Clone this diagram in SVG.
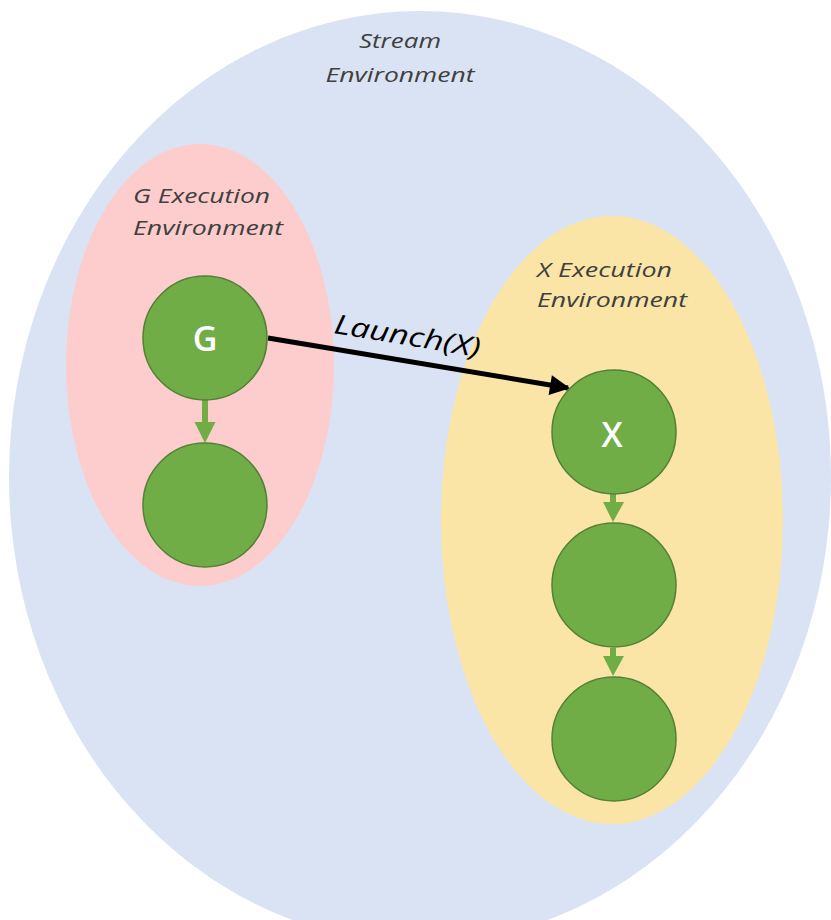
<svg xmlns="http://www.w3.org/2000/svg" width="831" height="920" viewBox="0 0 831 920">
<style>
.env{font-family:"Open Sans","DejaVu Sans",sans-serif;font-style:italic;font-size:20px;fill:#404040}
.node{fill:#70AD47;stroke:#538135;stroke-width:1.5}
.nl{font-family:"Open Sans","DejaVu Sans",sans-serif;font-size:34px;font-weight:600;fill:#ffffff;text-anchor:middle}
.garrow{stroke:#70AD47;stroke-width:6;fill:none}
.ghead{fill:#70AD47}
</style>
<defs>
<marker id="blk" viewBox="0 0 10 10" refX="9" refY="5" markerWidth="4.5" markerHeight="4" orient="auto" markerUnits="strokeWidth">
<path d="M0,0 L10,5 L0,10 z" fill="#000"/>
</marker>
</defs>
<rect width="831" height="920" fill="#ffffff"/>
<g id="stream-env">
<ellipse cx="420" cy="477" rx="411" ry="466" fill="#DAE3F3"/>
<text class="env" x="400" y="48" text-anchor="middle" textLength="82" lengthAdjust="spacingAndGlyphs">Stream</text>
<text class="env" x="400" y="82" text-anchor="middle" textLength="149" lengthAdjust="spacingAndGlyphs">Environment</text>
</g>
<g id="g-env">
<ellipse cx="200" cy="365" rx="134" ry="221" fill="#FDCCCC"/>
<text class="env" x="133" y="203" textLength="137" lengthAdjust="spacingAndGlyphs">G Execution</text>
<text class="env" x="133" y="235" textLength="150" lengthAdjust="spacingAndGlyphs">Environment</text>
</g>
<g id="x-env">
<ellipse cx="612" cy="520" rx="171" ry="304" fill="#FAE5A6"/>
<text class="env" x="537" y="277" textLength="135" lengthAdjust="spacingAndGlyphs">X Execution</text>
<text class="env" x="537" y="307" textLength="150" lengthAdjust="spacingAndGlyphs">Environment</text>
</g>
<g id="connectors">
<line class="garrow" x1="205" y1="399" x2="205" y2="423"/>
<path class="ghead" d="M194.5,422 L215.5,422 L205,443 z"/>
<line class="garrow" x1="613" y1="494" x2="613" y2="503"/>
<path class="ghead" d="M603,502 L624,502 L613,522 z"/>
<line class="garrow" x1="613" y1="648" x2="613" y2="657"/>
<path class="ghead" d="M603,656 L624,656 L613,676 z"/>
<line x1="268" y1="338" x2="568" y2="388" stroke="#000" stroke-width="5" marker-end="url(#blk)"/>
<text x="333" y="333" transform="rotate(9.4 333 333)" font-family="'Open Sans','DejaVu Sans',sans-serif" font-style="italic" font-weight="500" font-size="27" fill="#000" textLength="148" lengthAdjust="spacingAndGlyphs">Launch(X)</text>
</g>
<g id="node-g">
<circle class="node" cx="205" cy="338" r="62"/>
<text class="nl" x="205" y="351">G</text>
</g>
<g id="node-g2">
<circle class="node" cx="205" cy="505" r="62"/>
</g>
<g id="node-x">
<circle class="node" cx="614" cy="432" r="62"/>
<text class="nl" x="612" y="447">X</text>
</g>
<g id="node-x2">
<circle class="node" cx="614" cy="585" r="62"/>
</g>
<g id="node-x3">
<circle class="node" cx="614" cy="739" r="62"/>
</g>
</svg>
